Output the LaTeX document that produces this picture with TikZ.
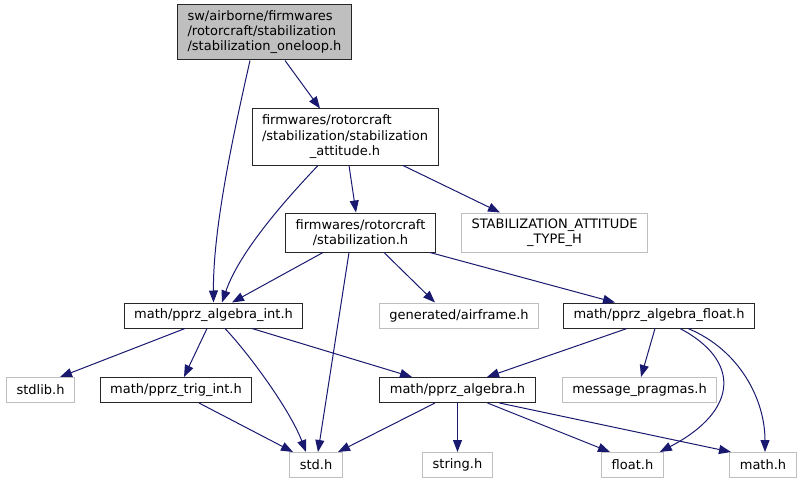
\documentclass[tikz,border=0pt]{standalone}
\usepackage{fontspec}
\setmainfont{DejaVu Sans}
\usetikzlibrary{arrows.meta}
\definecolor{edgeblue}{HTML}{191970}
\definecolor{boxgray}{HTML}{BFBFBF}
\begin{document}
\begin{tikzpicture}[x=1pt, y=-1pt,
	every node/.style={font=\fontsize{13}{15}\selectfont, align=center, inner xsep=10pt, inner ysep=2pt, minimum height=25pt, line width=1pt},
	hdr/.style={draw=black!85},
	sys/.style={draw=boxgray},
	dep/.style={draw=edgeblue, line width=1pt, -{Triangle[length=12pt,width=9pt]}}]
	\useasboundingbox (0,0) rectangle (803,484);
	% header files of the project
	\node[hdr, fill=boxgray, align=left, minimum height=55pt] (oneloop) at (264.5,32.5) {sw/airborne/firmwares\\/rotorcraft/stabilization\\/stabilization\_oneloop.h};
	\node[hdr, minimum height=56pt] (attitude) at (345,137) {\begin{tabular}{@{}l@{}}firmwares/rotorcraft\\/stabilization/stabilization\\\multicolumn{1}{@{}c@{}}{\_attitude.h}\end{tabular}};
	\node[hdr, minimum height=39pt] (stabil) at (360.5,232.5) {firmwares/rotorcraft\\/stabilization.h};
	\node[sys, minimum height=39pt] (atttype) at (554.5,232.5) {STABILIZATION\_ATTITUDE\\\_TYPE\_H};
	\node[hdr] (algint) at (213.5,315.5) {math/pprz\_algebra\_int.h};
	\node[sys] (airframe) at (459,315.5) {generated/airframe.h};
	\node[hdr] (algfloat) at (659,315.5) {math/pprz\_algebra\_float.h};
	\node[sys] (stdlib) at (40.5,390) {stdlib.h};
	\node[hdr] (trig) at (176,390) {math/pprz\_trig\_int.h};
	\node[hdr] (alg) at (457.5,390) {math/pprz\_algebra.h};
	\node[sys] (pragmas) at (639.5,390) {message\_pragmas.h};
	\node[sys] (std) at (316,465) {std.h};
	\node[sys] (string) at (457.5,465) {string.h};
	\node[sys] (float) at (632.5,465) {float.h};
	\node[sys] (math) at (763,465) {math.h};
	% straight includes
	\foreach \a/\sa/\b/\sb in {oneloop/20.5/attitude/-25, attitude/4/stabil/-4.5, attitude/58/atttype/-54.5,
		stabil/-37.5/algint/18.5, stabil/-11.5/std/2, stabil/23.5/airframe/-24, stabil/69.5/algfloat/-44,
		algint/-28.5/stdlib/19.5, algint/-6.5/trig/8, algint/38.5/alg/-45.5,
		algfloat/-32/alg/29.5, algfloat/-4/pragmas/1.5, trig/23/std/-23,
		alg/-22.5/std/22, alg/0/string/0, alg/30/float/-22.5, alg/42/math/-32}
		\draw[dep] ([xshift=\sa]\a.south) -- ([xshift=\sb]\b.north);
	% curved includes
	\draw[dep] ([xshift=-14.5]oneloop.south) .. controls (232,140) and (213,230) .. (algint.north);
	\draw[dep] ([xshift=-27]attitude.south) .. controls (290,195) and (240,250) .. ([xshift=8.5]algint.north);
	\draw[dep] ([xshift=11.5]algint.south) .. controls (250,355) and (290,410) .. ([xshift=-10]std.north);
	\draw[dep] ([xshift=21]algfloat.south) .. controls (740,360) and (740,410) .. ([xshift=-4]float.north east);
	\draw[dep] ([xshift=29]algfloat.south) .. controls (740,350) and (765,400) .. ([xshift=2]math.north);
\end{tikzpicture}
\end{document}
